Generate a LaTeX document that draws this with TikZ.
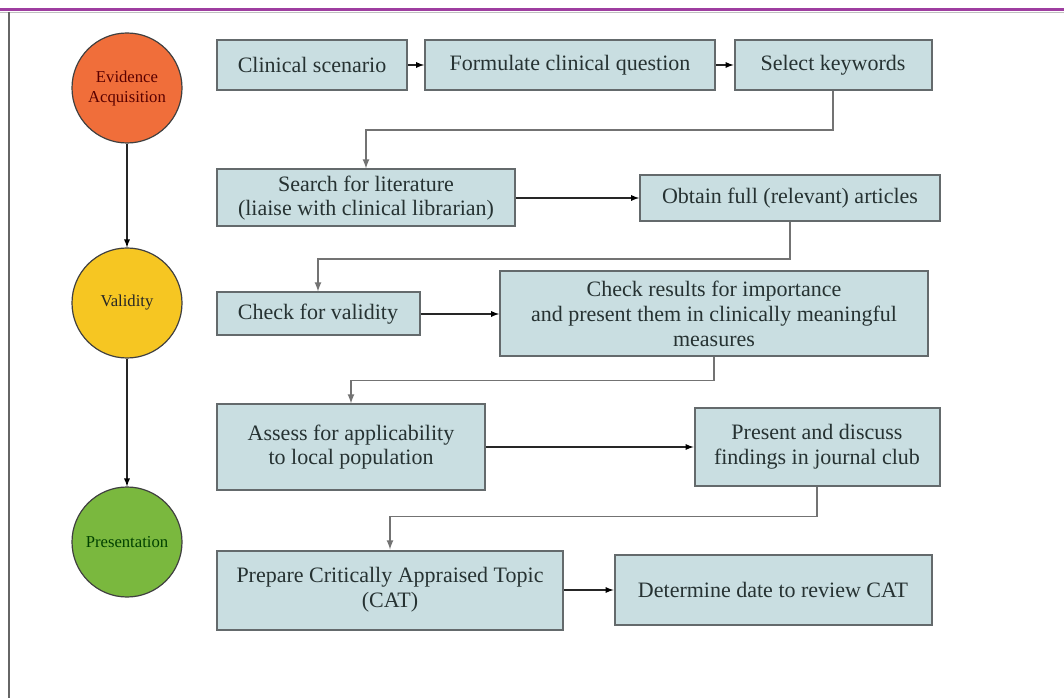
\documentclass[tikz,border=0pt]{standalone}
\usepackage{fontspec}
\setmainfont{Liberation Serif}
\usepackage{xcolor}
\usetikzlibrary{arrows}
\usetikzlibrary{positioning}

\newdimen\pxu \pxu=0.75pt
\definecolor{boxfill}{RGB}{201,222,225}
\definecolor{boxline}{RGB}{100,106,108}
\definecolor{acqorange}{RGB}{240,110,58}
\definecolor{valyellow}{RGB}{246,198,34}
\definecolor{presgreen}{RGB}{122,184,62}
\definecolor{frameviolet}{RGB}{158,62,160}
\definecolor{txtgray}{RGB}{38,50,50}

\begin{document}
\begin{tikzpicture}[x=0.75pt,y=-0.75pt,>=latex,
    every node/.style={inner sep=0pt},
    stepbox/.style={draw=boxline, fill=boxfill, line width=2\pxu, align=center, text=txtgray,
      font={\fontsize{16.5}{18.5}\selectfont}},
    phase/.style={circle, draw=black!75, line width=1.2\pxu, minimum size=110\pxu, align=center,
      font={\fontsize{12.5}{15}\selectfont}},
    flow/.style={->, draw=black!85, line width=1.4\pxu},
    elbow/.style={->, draw=black!55, line width=1.8\pxu}]

        \fill[white] (0,0) rectangle (1064,698);
        \useasboundingbox (0,0) rectangle (1064,698);

        % frame
        \draw[frameviolet, line width=3\pxu] (0,10) -- (1064,10);
        \draw[black!25, line width=1\pxu] (0,13) -- (1064,13);
        \draw[black!60, line width=2\pxu] (9,12) -- (9,698);

        % phases
        \node[phase, fill=acqorange, text=red!35!black]   (acq)  at (127,88)  {Evidence\\Acquisition};
        \node[phase, fill=valyellow, text=black!85]       (val)  at (127,303) {Validity};
        \node[phase, fill=presgreen, text=green!25!black] (pres) at (127,542) {Presentation};

        % steps
        \node[stepbox, minimum width=190\pxu, minimum height=50\pxu] (scen)  at (312,65)  {Clinical scenario};
        \node[stepbox, minimum width=290\pxu, minimum height=50\pxu] (quest) at (570,65)  {Formulate clinical question};
        \node[stepbox, minimum width=197\pxu, minimum height=50\pxu] (kw)    at (833,65)  {Select keywords};

        \node[stepbox, minimum width=298\pxu, minimum height=57\pxu] (lit)   at (366,198) {Search for literature\\(liaise with clinical librarian)};
        \node[stepbox, minimum width=300\pxu, minimum height=46\pxu] (obt)   at (790,198) {Obtain full (relevant) articles};

        \node[stepbox, minimum width=203\pxu, minimum height=43\pxu] (valid) at (318,314) {Check for validity};
        \node[stepbox, minimum width=428\pxu, minimum height=85\pxu] (res)   at (714,314) {Check results for importance\\and present them in clinically meaningful\\measures};

        \node[stepbox, minimum width=268\pxu, minimum height=85\pxu] (appl)  at (351,447) {Assess for applicability\\to local population};
        \node[stepbox, minimum width=245\pxu, minimum height=77\pxu] (club)  at (817,447) {Present and discuss\\findings in journal club};

        \node[stepbox, minimum width=346\pxu, minimum height=79\pxu] (cat)   at (390,590) {Prepare Critically Appraised Topic\\(CAT)};
        \node[stepbox, minimum width=317\pxu, minimum height=70\pxu] (rev)   at (773,590) {Determine date to review CAT};

        \path [flow]
          (acq) edge [] node[] {} (val)
          (val) edge [] node[] {} (pres)

          (scen) edge [] node[] {} (quest)
          (quest) edge [] node[] {} (kw)
          (lit) edge [] node[] {} (obt)
          (valid) edge [] node[] {} (res)
          (appl) edge [] node[] {} (club)
          (cat) edge [] node[] {} (rev);

        % row to row
        \draw[elbow] (kw.south) -- ++(0,39) -| (lit.north);
        \draw[elbow] (obt.south) -- ++(0,37) -| (valid.north);
        \draw[elbow] (res.south) -- ++(0,23) -| (appl.north);
        \draw[elbow] (club.south) -- ++(0,30) -| (cat.north);

      \end{tikzpicture}
\end{document}
